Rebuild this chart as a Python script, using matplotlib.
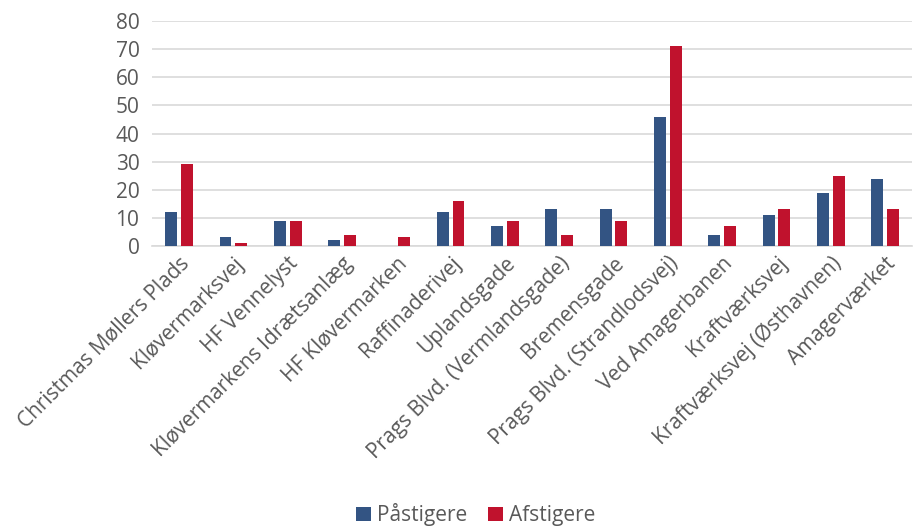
import matplotlib.pyplot as plt
import numpy as np

plt.rcParams['font.family'] = ['Open Sans', 'DejaVu Sans']

stops = ['Christmas Møllers Plads', 'Kløvermarksvej', 'HF Vennelyst',
         'Kløvermarkens Idrætsanlæg', 'HF Kløvermarken', 'Raffinaderivej',
         'Uplandsgade', 'Prags Blvd. (Vermlandsgade)', 'Bremensgade',
         'Prags Blvd. (Strandlodsvej)', 'Ved Amagerbanen', 'Kraftværksvej',
         'Kraftværksvej (Østhavnen)', 'Amagerværket']
paastigere = [12, 3, 9, 2, 0, 12, 7, 13, 13, 46, 4, 11, 19, 24]
afstigere = [29, 1, 9, 4, 3, 16, 9, 4, 9, 71, 7, 13, 25, 13]

blue = '#335483'
red = '#C0122D'
grey = '#595959'

fig = plt.figure(figsize=(9.15, 5.3), dpi=100)
ax = fig.add_axes([0.166, 0.536, 0.831, 0.424])

x = np.arange(len(stops))
w = 0.22
ax.bar(x - 0.145, paastigere, w, color=blue, label='Påstigere', zorder=3)
ax.bar(x + 0.145, afstigere, w, color=red, label='Afstigere', zorder=3)

ax.set_xlim(-0.5, len(stops) - 0.5)
ax.set_ylim(0, 80)
ax.set_yticks(range(0, 81, 10))
ax.grid(axis='y', color='#D9D9D9', linewidth=1.2, zorder=0)
for s in ['top', 'right', 'left']:
    ax.spines[s].set_visible(False)
ax.spines['bottom'].set_color('#D9D9D9')
ax.spines['bottom'].set_linewidth(1.2)
ax.tick_params(length=0, labelsize=15, labelcolor=grey)
ax.tick_params(axis='y', pad=9)
ax.tick_params(axis='x', pad=5)
ax.set_xticks(x)
ax.set_xticklabels(stops, rotation=45, ha='right', rotation_mode='anchor')

fig.legend(loc='lower center', bbox_to_anchor=(0.52, -0.028), ncol=2, frameon=False,
           fontsize=15, labelcolor=grey, handlelength=0.7, handleheight=0.7,
           handletextpad=0.3, columnspacing=1.0)

fig.savefig('out.png', dpi=100)
